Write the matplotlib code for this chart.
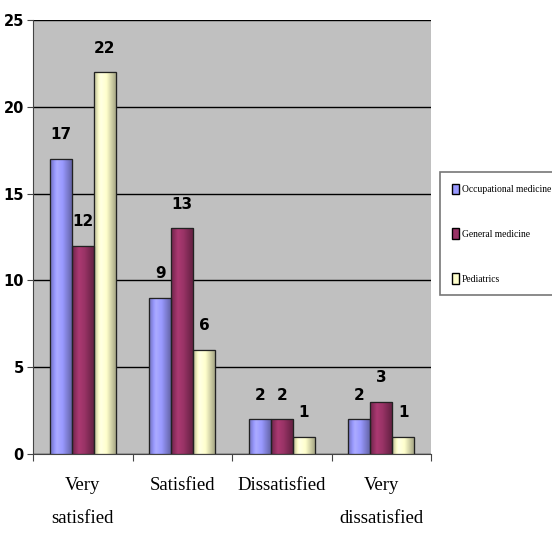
import numpy as np
import matplotlib
matplotlib.use("Agg")
import matplotlib.pyplot as plt
from matplotlib.colors import to_rgb
from matplotlib.patches import Rectangle

categories = ["Very\nsatisfied", "Satisfied", "Dissatisfied", "Very\ndissatisfied"]
series_names = ["Occupational medicine", "General medicine", "Pediatrics"]
occupational = [17, 9, 2, 2]
general = [12, 13, 2, 3]
pediatrics = [22, 6, 1, 1]
y_ticks = [0, 5, 10, 15, 20, 25]

colors = ["#9999FF", "#993366", "#FFFFCC"]

num_font = dict(family="DejaVu Sans", fontweight="bold")
serif = "Liberation Serif"

fig = plt.figure(figsize=(5.52, 5.33), dpi=100)
ax = fig.add_axes([33 / 552, 1 - 454 / 533, (431 - 33) / 552, (454 - 20) / 533])
ax.set_facecolor("#C0C0C0")

values = [occupational, general, pediatrics]
n = len(categories)
bar_w = 0.222
x = np.arange(n)
offsets = [-bar_w, 0, bar_w]

# horizontal shading profile for cylinder-like bars
t = np.linspace(0, 1, 64)
shade = np.interp(t, [0, 0.3, 0.55, 1], [0.72, 1.12, 1.0, 0.62])

ax.yaxis.grid(True, color="black", linewidth=1.0)
ax.set_axisbelow(True)

for si, vals in enumerate(values):
    base = np.array(to_rgb(colors[si]))
    grad = np.clip(base[None, :] * shade[:, None], 0, 1)[None, :, :]
    bars = ax.bar(x + offsets[si], vals, width=bar_w, color=colors[si],
                  edgecolor="#222222", linewidth=0.8, zorder=3,
                  label=series_names[si])
    for b, v in zip(bars, vals):
        x0 = b.get_x()
        im = ax.imshow(grad, extent=[x0, x0 + bar_w, 0, v], aspect="auto",
                       zorder=3.5, interpolation="bilinear")
        im.set_clip_path(b)
        ax.add_patch(Rectangle((x0, 0), bar_w, v, fill=False,
                               edgecolor="#222222", linewidth=0.9, zorder=4))
        ax.text(x0 + bar_w / 2, v + 0.95, str(v), ha="center", va="bottom",
                fontsize=11, zorder=5, **num_font)

ax.set_xlim(-0.5, n - 0.5)
ax.set_ylim(0, 25)
ax.set_yticks(y_ticks)

# category boundaries as ticks, labels centred under each group
ax.set_xticks(np.arange(n + 1) - 0.5)
ax.set_xticklabels([])
ax.tick_params(axis="x", length=5, width=0.8, color="#444444")
for i, c in enumerate(categories):
    ax.text(i, -1.35, c, ha="center", va="top", fontsize=13.5, family=serif,
            linespacing=2.2)

ax.tick_params(axis="y", length=4, width=0.8, color="#444444", pad=2.5)
ax.set_yticklabels([str(v) for v in y_ticks], fontsize=10.5, **num_font)

for side in ["top", "right"]:
    ax.spines[side].set_visible(False)
ax.spines["left"].set_color("#444444")
ax.spines["bottom"].set_color("#444444")

leg = fig.legend(loc="upper left", bbox_to_anchor=(440 / 552, 1 - 172 / 533),
                 prop={"family": serif, "size": 6.9}, frameon=True,
                 fancybox=False, handlelength=0.75, handleheight=1.3,
                 handletextpad=0.35, labelspacing=3.6, borderpad=1.2,
                 borderaxespad=0)
leg.get_frame().set_edgecolor("#555555")
leg.get_frame().set_linewidth(1.2)
for h in leg.legend_handles:
    h.set_edgecolor("black")
    h.set_linewidth(1.0)

fig.savefig("out.png", dpi=100)
